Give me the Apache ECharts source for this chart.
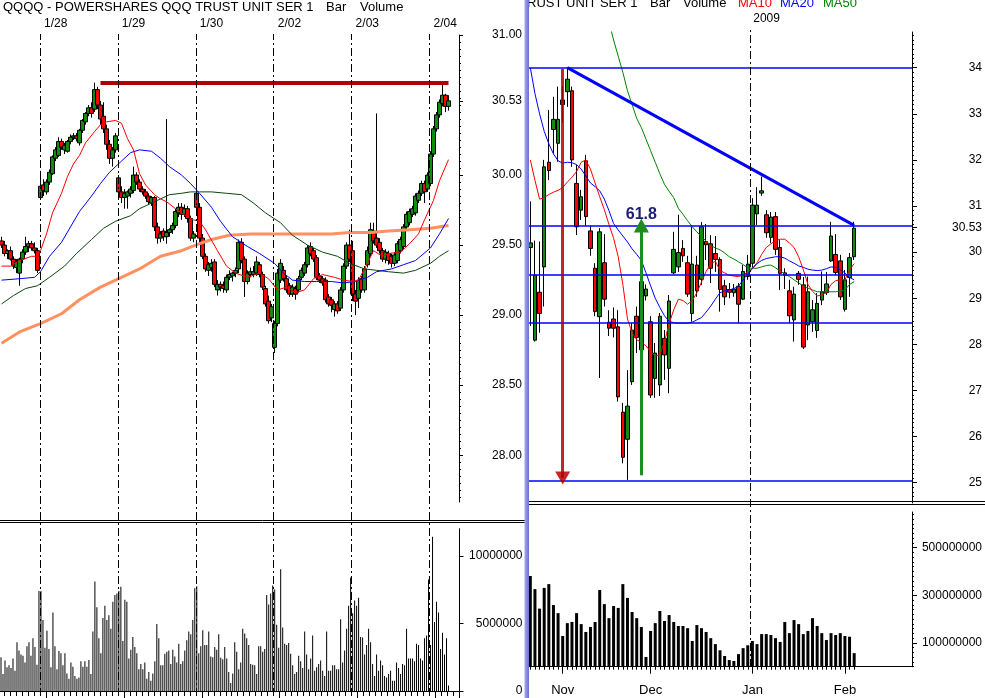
<!DOCTYPE html>
<html><head><meta charset="utf-8">
<script src="https://cdn.jsdelivr.net/npm/echarts@6/dist/echarts.min.js"></script>
<style>html,body{margin:0;padding:0;background:#fff}#c{width:985px;height:698px}</style>
</head><body><div id="c"></div>
<script>
// ================= DATA =================
// ---- Left: intraday (15-min candles, 10-min volume) ----
const leftDays = ['1/27','1/28','1/29','1/30','2/02','2/03','2/04'];
// candles [open, high, low, close]
const ohlc0127 = [[29.53,29.56,29.48,29.50],[29.50,29.53,29.42,29.44],[29.44,29.47,29.40,29.46],[29.46,29.49,29.39,29.40],[29.40,29.42,29.33,29.35],[29.34,29.40,29.30,29.38],[29.30,29.41,29.21,29.40],[29.40,29.47,29.37,29.45],[29.45,29.56,29.43,29.49],[29.49,29.53,29.45,29.51],[29.51,29.53,29.46,29.48],[29.48,29.52,29.44,29.46],[29.46,29.48,29.30,29.32]];
const ohlc0128 = [[29.84,30.03,29.83,29.92],[29.93,29.97,29.85,29.89],[29.88,29.97,29.86,29.95],[29.95,30.04,29.93,30.02],[30.01,30.14,30.00,30.13],[30.12,30.20,30.10,30.18],[30.14,30.27,30.13,30.24],[30.24,30.26,30.18,30.20],[30.18,30.23,30.15,30.21],[30.17,30.25,30.16,30.24],[30.24,30.29,30.22,30.27],[30.27,30.30,30.25,30.28],[30.28,30.30,30.24,30.26],[30.23,30.33,30.21,30.32],[30.32,30.40,30.30,30.39],[30.38,30.45,30.36,30.44],[30.44,30.50,30.42,30.48],[30.48,30.52,30.41,30.44],[30.47,30.66,30.45,30.61],[30.61,30.63,30.47,30.50],[30.50,30.53,30.36,30.40],[30.42,30.52,30.30,30.33],[30.33,30.36,30.18,30.22],[30.22,30.25,30.08,30.12],[30.12,30.20,30.06,30.18],[30.18,30.30,30.16,30.28]];
const ohlc0129 = [[29.98,30.00,29.85,29.88],[29.88,29.92,29.80,29.84],[29.84,29.90,29.76,29.87],[29.85,29.89,29.76,29.88],[29.87,29.92,29.84,29.90],[29.89,30.06,29.87,30.00],[30.00,30.02,29.93,29.95],[29.95,29.97,29.88,29.90],[29.90,29.92,29.86,29.88],[29.88,29.90,29.83,29.85],[29.85,29.87,29.79,29.81],[29.80,29.85,29.78,29.84],[29.84,29.85,29.60,29.63],[29.63,29.66,29.51,29.55],[29.55,29.60,29.52,29.58],[29.60,29.62,29.53,29.56],[29.56,30.40,29.51,29.59],[29.59,29.62,29.56,29.61],[29.61,29.66,29.58,29.64],[29.64,29.76,29.62,29.74],[29.73,29.80,29.70,29.77],[29.77,29.80,29.68,29.72],[29.72,29.79,29.70,29.76],[29.76,29.78,29.66,29.69],[29.69,29.71,29.53,29.55],[29.55,29.60,29.52,29.58]];
const ohlc0130 = [[29.87,29.94,29.75,29.77],[29.77,29.80,29.52,29.55],[29.55,29.58,29.40,29.42],[29.42,29.44,29.31,29.33],[29.32,29.38,29.28,29.36],[29.34,29.40,29.31,29.37],[29.38,29.40,29.20,29.22],[29.18,29.25,29.14,29.22],[29.22,29.24,29.17,29.20],[29.21,29.24,29.16,29.19],[29.18,29.29,29.16,29.27],[29.27,29.32,29.25,29.29],[29.28,29.31,29.24,29.30],[29.30,29.34,29.27,29.32],[29.33,29.54,29.30,29.52],[29.52,29.55,29.37,29.39],[29.40,29.42,29.13,29.24],[29.24,29.32,29.22,29.30],[29.29,29.34,29.27,29.31],[29.29,29.35,29.27,29.31],[29.30,29.42,29.28,29.38],[29.36,29.38,29.27,29.29],[29.29,29.31,29.18,29.20],[29.19,29.21,29.06,29.08],[29.10,29.14,28.94,28.96],[28.98,29.08,28.95,29.06]];
const ohlc0202 = [[28.77,28.96,28.73,28.94],[28.94,29.33,28.92,29.30],[29.25,29.40,29.23,29.37],[29.32,29.35,29.24,29.26],[29.26,29.28,29.16,29.18],[29.21,29.23,29.13,29.15],[29.15,29.22,29.13,29.20],[29.19,29.21,29.11,29.15],[29.18,29.28,29.16,29.26],[29.27,29.34,29.25,29.32],[29.30,29.38,29.28,29.36],[29.36,29.50,29.34,29.48],[29.49,29.52,29.42,29.44],[29.46,29.48,29.38,29.40],[29.41,29.43,29.25,29.27],[29.28,29.30,29.23,29.25],[29.26,29.28,29.21,29.23],[29.25,29.27,29.09,29.11],[29.13,29.15,29.06,29.08],[29.11,29.13,29.02,29.07],[29.04,29.10,28.99,29.08],[29.08,29.10,29.01,29.03],[29.05,29.20,29.03,29.18],[29.18,29.37,29.16,29.35],[29.35,29.52,29.33,29.50],[29.50,29.61,29.38,29.40]];
const ohlc0203 = [[29.46,29.53,29.10,29.15],[29.15,29.18,29.00,29.10],[29.12,29.27,29.05,29.25],[29.26,29.28,29.16,29.18],[29.18,29.35,29.16,29.33],[29.36,29.49,29.34,29.46],[29.44,29.66,29.42,29.61],[29.60,29.66,29.51,29.53],[29.55,30.44,29.48,29.50],[29.52,29.55,29.44,29.46],[29.46,29.48,29.38,29.40],[29.40,29.47,29.37,29.45],[29.44,29.46,29.36,29.39],[29.42,29.44,29.34,29.37],[29.37,29.45,29.35,29.43],[29.39,29.53,29.37,29.51],[29.46,29.56,29.44,29.54],[29.49,29.65,29.47,29.63],[29.63,29.74,29.61,29.72],[29.66,29.76,29.64,29.74],[29.72,29.78,29.70,29.76],[29.73,29.87,29.71,29.85],[29.82,29.89,29.80,29.87],[29.87,29.96,29.85,29.94],[29.94,29.96,29.80,29.88],[29.90,30.02,29.88,30.00]];
const ohlc0204 = [[29.94,30.17,29.92,30.15],[30.15,30.35,30.13,30.33],[30.33,30.45,30.31,30.43],[30.43,30.54,30.41,30.52],[30.51,30.66,30.49,30.57],[30.57,30.58,30.45,30.49],[30.49,30.57,30.46,30.53]];
const leftOHLCByDay = [ohlc0127, ohlc0128, ohlc0129, ohlc0130, ohlc0202, ohlc0203, ohlc0204];
// volume, millions of shares per 10-min bar
const vol0127 = [2.5,1.25,2.25,1.75,1.9,1.7,2.4,1.5,3.6,3.0,2.7,2.6,2.1,3.3,3.6,2.6,3.9,3.25,1.95,7.4];
const vol0128 = [7.4,5.25,3.2,4.45,3.1,1.75,5.8,3.3,1.6,2.95,2.8,1.9,2.8,1.3,0.9,2.1,1.8,1.1,0.9,1.0,2.2,1.8,2.2,1.8,2.3,1.25,4.4,8.1,6.2,3.9,2.8,5.4,6.3,5.25,5.6,4.6,6.6,7.1,7.2];
const vol0129 = [7.4,7.7,3.7,6.75,6.6,2.4,3.05,4.0,3.25,2.8,1.6,2.0,1.6,2.1,0.9,1.4,0.75,1.3,2.2,4.95,3.9,1.9,1.9,2.75,2.9,3.0,2.0,3.05,2.55,2.1,3.5,2.0,2.2,3.0,3.75,4.4,4.2,5.25,7.6];
const vol0130 = [7.75,2.8,3.3,4.5,3.4,3.4,4.4,2.55,2.5,3.25,3.05,4.2,2.45,2.35,3.25,2.4,1.4,0.6,1.3,3.6,2.9,1.6,2.1,4.6,4.25,3.9,3.4,2.0,1.95,1.9,1.25,3.3,3.3,2.9,3.1,7.1,6.4,7.2,7.8];
const vol0202 = [7.5,4.9,3.2,9.0,4.7,3.5,3.4,3.55,2.75,1.9,1.25,1.4,2.6,2.2,1.7,4.4,2.7,1.6,2.4,4.1,1.5,1.75,2.0,2.25,1.5,1.1,4.4,1.5,1.5,1.9,1.9,1.6,1.6,5.3,2.1,3.0,4.6,6.3,8.4];
const vol0203 = [5.75,6.7,6.3,6.9,4.0,3.95,2.7,3.4,4.6,3.6,2.0,1.1,2.7,1.5,2.25,1.9,1.1,1.0,1.25,1.5,0.75,0.75,2.1,1.7,1.25,2.0,1.9,4.6,2.4,2.4,2.4,2.2,3.5,3.4,2.4,2.25,3.9,4.1,8.25];
const vol0204 = [3.4,11.4,5.1,6.6,5.8,3.1,4.3,2.7,3.9,0.4];
const leftVolByDay = [vol0127, vol0128, vol0129, vol0130, vol0202, vol0203, vol0204];
// moving averages: [candle index, value]
const maRedL = [[0,29.35],[3,29.35],[6,29.39],[10,29.42],[12,29.42],[13,29.46],[15,29.58],[17,29.73],[20,29.87],[22,29.99],[24,30.08],[26,30.14],[28,30.23],[31,30.31],[33,30.36],[35,30.38],[38,30.39],[40,30.37],[42,30.26],[44,30.18],[46,30.01],[48,29.93],[51,29.86],[53,29.83],[55,29.81],[58,29.76],[60,29.73],[62,29.70],[64,29.68],[66,29.67],[68,29.61],[72,29.46],[75,29.35],[78,29.30],[82,29.27],[86,29.30],[89,29.26],[92,29.18],[95,29.20],[98,29.16],[101,29.18],[104,29.26],[107,29.29],[111,29.27],[114,29.25],[117,29.24],[119,29.25],[122,29.37],[124,29.46],[127,29.42],[129,29.44],[133,29.45],[136,29.51],[139,29.58],[141,29.68],[144,29.82],[146,29.96],[149,30.11]];
const maBlueL = [[0,29.25],[6,29.26],[11,29.27],[13,29.31],[16,29.42],[20,29.52],[23,29.63],[26,29.74],[30,29.85],[33,29.94],[36,30.02],[40,30.10],[43,30.16],[46,30.18],[50,30.17],[53,30.12],[56,30.06],[60,30.00],[63,29.94],[66,29.87],[70,29.77],[73,29.67],[77,29.56],[82,29.49],[86,29.44],[91,29.37],[94,29.30],[97,29.25],[101,29.24],[105,29.24],[110,29.24],[114,29.23],[118,29.24],[122,29.27],[125,29.31],[130,29.33],[134,29.36],[138,29.39],[143,29.48],[146,29.58],[149,29.69]];
const maGreenL = [[0,29.08],[4,29.14],[8,29.19],[12,29.21],[16,29.27],[21,29.35],[25,29.44],[30,29.54],[34,29.62],[38,29.67],[43,29.71],[46,29.76],[50,29.80],[53,29.83],[56,29.86],[60,29.87],[63,29.88],[66,29.88],[70,29.88],[75,29.87],[80,29.86],[84,29.80],[88,29.73],[93,29.66],[97,29.57],[102,29.50],[107,29.45],[112,29.42],[116,29.37],[121,29.33],[125,29.32],[129,29.31],[134,29.30],[138,29.32],[143,29.37],[146,29.42],[149,29.46]];
const maOrangeL = [[0,28.80],[6,28.88],[13,28.94],[20,29.01],[26,29.11],[33,29.20],[40,29.27],[46,29.33],[53,29.42],[60,29.46],[66,29.51],[70,29.54],[76,29.57],[83,29.58],[90,29.58],[96,29.58],[103,29.58],[110,29.58],[116,29.59],[123,29.59],[129,29.60],[136,29.61],[143,29.62],[149,29.64]];
const leftResistance = {from: 33, to: 149, value: 30.66};
const leftPriceTicks = [28.00,28.50,29.00,29.50,30.00,30.53,31.00];
const leftVolTicks = [0,5,10];

// ---- Right: daily ----
const rDates = ['Oct 23','Oct 24','Oct 27','Oct 28','Oct 29','Oct 30','Oct 31',
 'Nov 3','Nov 4','Nov 5','Nov 6','Nov 7','Nov 10','Nov 11','Nov 12','Nov 13','Nov 14','Nov 17','Nov 18','Nov 19','Nov 20','Nov 21','Nov 24','Nov 25','Nov 26','Nov 28',
 'Dec 1','Dec 2','Dec 3','Dec 4','Dec 5','Dec 8','Dec 9','Dec 10','Dec 11','Dec 12','Dec 15','Dec 16','Dec 17','Dec 18','Dec 19','Dec 22','Dec 23','Dec 24','Dec 26','Dec 29','Dec 30','Dec 31',
 'Jan 2','Jan 5','Jan 6','Jan 7','Jan 8','Jan 9','Jan 12','Jan 13','Jan 14','Jan 15','Jan 16','Jan 20','Jan 21','Jan 22','Jan 23','Jan 26','Jan 27','Jan 28','Jan 29','Jan 30',
 'Feb 2','Feb 3','Feb 4'];
const rEmptySlots = 12;
const rOHLC = [[30.10,31.10,28.40,30.20],[28.09,30.25,28.06,29.50],[29.13,30.23,28.25,28.67],[29.68,32.00,28.82,31.85],[31.95,33.08,31.56,31.77],[32.66,33.37,32.14,32.88],[32.36,33.59,31.96,32.88],
 [33.20,33.60,32.80,33.30],[33.48,34.00,33.15,33.75],[33.50,33.59,31.85,32.00],[31.49,31.89,30.37,30.55],[30.91,31.35,30.70,31.20],[31.98,32.11,30.57,30.77],[30.46,30.57,29.92,30.08],[29.65,29.76,28.61,28.71],[28.60,30.52,27.27,30.44],[29.77,30.39,28.82,28.98],[28.48,28.74,28.18,28.35],[28.55,28.80,28.15,28.35],[28.38,28.74,26.76,26.86],[26.53,26.73,25.42,25.55],[25.94,27.44,25.06,26.66],[27.19,28.46,27.12,28.31],[28.61,28.82,27.81,28.15],[27.88,29.50,27.83,29.36],[29.05,29.30,28.95,29.20],
 [28.49,28.61,26.84,26.90],[27.26,28.03,26.84,27.81],[27.12,28.68,26.88,28.61],[28.13,28.31,27.23,27.77],[27.48,29.07,26.94,28.94],[29.55,30.44,29.52,30.06],[29.68,30.81,29.57,29.99],[30.08,30.26,29.79,29.92],[29.77,29.92,29.03,29.09],[28.67,30.55,28.49,29.74],[29.72,29.92,29.03,29.16],[29.41,30.65,29.29,30.55],[30.23,30.61,29.83,30.16],[30.18,30.37,29.33,29.65],[29.97,30.35,29.57,29.84],[29.84,29.89,28.71,29.19],[29.27,29.40,28.85,29.03],[29.19,29.33,29.00,29.13],[29.12,29.31,29.03,29.20],[29.26,29.33,28.45,28.87],[28.98,29.72,28.96,29.58],[29.47,29.94,29.40,29.74],
 [29.76,31.17,29.66,31.02],[30.83,31.41,30.59,31.02],[31.28,31.64,31.22,31.33],[30.81,30.91,30.31,30.42],[30.32,30.87,30.20,30.76],[30.77,30.87,29.94,30.06],[30.10,30.26,29.18,29.54],[29.55,29.65,29.20,29.50],[29.16,29.40,28.46,28.62],[28.53,29.25,28.06,29.09],[29.54,29.59,29.29,29.41],[29.29,29.46,27.90,27.94],[28.42,29.47,28.09,29.14],[28.49,28.96,28.27,28.75],[28.30,29.11,28.14,28.89],[28.96,29.58,28.85,29.14],[29.12,29.57,29.07,29.31],[29.81,30.66,29.79,30.35],[29.95,30.39,29.50,29.56],[29.81,29.94,28.96,29.03],
 [28.76,29.61,28.71,29.40],[29.45,29.98,29.03,29.88],[29.90,30.66,29.83,30.52]];
// daily volume, millions
const rVol = [381,326,244,331,347,259,225,129,183,188,225,179,146,167,188,322,263,204,255,247,347,289,230,204,167,41,150,183,234,192,217,188,171,171,162,108,175,162,146,120,95,69,45,28,24,53,78,90,108,95,137,137,133,120,104,188,141,196,179,137,150,204,171,141,112,141,133,141,129,126,57];
const rMA10 = [32.00,31.56,31.15,31.18,31.25,31.30,31.34,31.40,31.52,31.62,31.75,31.95,32.00,31.80,31.50,31.20,30.92,30.60,30.30,29.90,29.30,28.55,28.25,28.10,28.04,27.97,27.84,27.74,27.78,28.05,28.45,28.75,28.98,28.95,28.87,28.95,29.12,29.35,29.58,29.75,29.80,29.60,29.55,29.50,29.48,29.47,29.50,29.57,29.65,29.77,29.95,30.10,30.18,30.25,30.28,30.28,30.20,30.10,29.90,29.62,29.30,29.15,29.05,29.07,29.12,29.30,29.38,29.40,29.40,29.62,29.75];
const rMA20 = [34.00,33.44,33.00,32.62,32.35,32.13,31.98,31.93,31.95,31.94,31.90,31.80,31.65,31.50,31.42,31.33,31.15,30.90,30.62,30.48,30.35,30.22,30.07,29.95,29.82,29.55,29.27,29.00,28.80,28.62,28.50,28.47,28.46,28.46,28.46,28.48,28.53,28.58,28.70,28.83,28.98,29.12,29.16,29.18,29.21,29.26,29.40,29.53,29.64,29.75,29.82,29.86,29.88,29.90,29.90,29.87,29.81,29.76,29.70,29.67,29.63,29.61,29.60,29.61,29.64,29.68,29.67,29.62,29.55,29.45,29.40];
const rMA50 = [null,null,null,null,null,null,null,null,null,null,null,null,null,null,null,null,null,
 35.0,34.6,34.25,33.9,33.5,33.2,32.9,32.7,32.45,32.2,31.95,31.7,31.47,31.32,31.18,30.95,30.82,30.68,30.55,30.44,30.33,30.24,30.15,30.09,30.05,29.98,29.90,29.85,29.79,29.73,29.66,29.65,29.65,29.68,29.71,29.72,29.66,29.59,29.53,29.47,29.40,29.33,29.27,29.22,29.18,29.14,29.14,29.14,29.14,29.14,29.16,29.18,29.30,29.36];
const fibLevels = [34.00, 30.58, 29.52, 28.46, 25.04];
const trendLine = [['Nov 4', 34.00], ['Feb 4', 30.58]];
const redArrow = [['Nov 3', 33.97], ['Nov 3', 25.10]];
const greenArrow = [['Nov 26', 25.16], ['Nov 26', 30.58]];
const greenArrowLabel = '61.8';
const rPriceTicks = [25,26,27,28,29,30,30.53,31,32,33,34];
const rVolTicks = [100,300,500];
const yearLabel = '2009';

// ================= BUILD =================
const FONT = '"Liberation Sans", Arial, sans-serif';
const UP = '#118c11', DOWN = '#ff0000';
const toEC = a => [a[0], a[3], a[2], a[1]];

const leftCandleCats = [], leftOHLC = [];
leftOHLCByDay.forEach((d, di) => d.forEach((c, k) => { leftCandleCats.push(leftDays[di] + ' c' + k); leftOHLC.push(toEC(c)); }));
for (let p = 0; p < 3; p++) leftCandleCats.push('pad c' + p);
const leftVolCats = [], leftVol = [], dayStarts = [];
leftVolByDay.forEach((d, di) => { if (di > 0) dayStarts.push(leftVol.length); d.forEach((v, k) => { leftVolCats.push(leftDays[di] + ' v' + k); leftVol.push(v); }); });
for (let p = 0; p < 5; p++) leftVolCats.push('pad v' + p);
const dayStartLabel = {}; dayStarts.forEach((s, j) => dayStartLabel[s] = leftDays[j + 1]);

const rCats = rDates.slice(); for (let p = 1; p <= rEmptySlots; p++) rCats.push('pad' + p);
const rData = rOHLC.map(toEC);
const monthStarts = []; rDates.forEach((d, i) => { if (i > 0 && d.split(' ')[0] !== rDates[i-1].split(' ')[0]) monthStarts.push(i); });
const yearStart = rDates.indexOf('Jan 2');

const range = (a, b, s) => { const r = []; for (let v = a; v <= b + 1e-9; v += s) r.push(+v.toFixed(2)); return r; };
const leftMinor = range(27.70, 31.00, 0.05);
const rMinor = range(24.6, 34.7, 0.1);
const rVolMinor = range(0, 640, 20);

const axisTxt = {color: '#000', fontFamily: FONT, fontSize: 12};
const blackLine = {lineStyle: {color: '#000', width: 1}};

const option = {
  animation: false,
  backgroundColor: '#fff',
  grid: [
    {left: 0, top: 35, width: 459, height: 467},
    {left: -0.5, top: 528.7, width: 460, height: 162.3},
    {left: -0.5, top: 34, width: 460, height: 662},
    {left: 528, top: 32, width: 384.3, height: 471},
    {left: 528, top: 512, width: 384.3, height: 154.7},
    {left: 528, top: 30, width: 384.3, height: 637}
  ],
  xAxis: [
    {gridIndex: 0, type: 'category', data: leftCandleCats, show: false},
    {gridIndex: 1, type: 'category', data: leftVolCats, position: 'bottom', axisLine: blackLine,
     axisTick: {show: true, interval: i => i % 3 === 2, length: 5, lineStyle: {color: '#000'}}, axisLabel: {show: false}},
    {gridIndex: 1, type: 'category', data: leftVolCats, position: 'bottom', axisLine: {show: false},
     axisTick: {show: true, interval: i => i % 39 === 23, length: 9, lineStyle: {color: '#000'}}, axisLabel: {show: false}},
    {gridIndex: 2, type: 'value', min: 0, max: leftVolCats.length, position: 'top', splitLine: {show: false},
     axisLine: {show: false}, axisTick: {show: false},
     axisLabel: Object.assign({customValues: dayStarts, formatter: v => dayStartLabel[v] || '', align: 'left', padding: [0,0,0,4], margin: 4}, axisTxt)},
    {gridIndex: 3, type: 'category', data: rCats, show: false},
    {gridIndex: 4, type: 'category', data: rCats, position: 'bottom', axisLine: blackLine,
     axisTick: {show: true, alignWithLabel: true, interval: i => i < rDates.length, length: 3, lineStyle: {color: '#000'}}, axisLabel: {show: false}},
    {gridIndex: 4, type: 'category', data: rCats, position: 'bottom', axisLine: {show: false},
     axisTick: {show: true, alignWithLabel: true, interval: i => monthStarts.includes(i), length: 7, lineStyle: {color: '#000'}},
     axisLabel: Object.assign({interval: i => monthStarts.includes(i), formatter: v => v.split(' ')[0], margin: 17}, axisTxt, {fontSize: 13})},
    {gridIndex: 5, type: 'value', min: 0, max: rCats.length, position: 'top', splitLine: {show: false},
     axisLine: {show: false}, axisTick: {show: false},
     axisLabel: Object.assign({customValues: [yearStart], formatter: () => yearLabel, align: 'left', padding: [0,0,0,3], margin: 5}, axisTxt)}
  ],
  yAxis: [
    {gridIndex: 0, type: 'value', min: 27.666, max: 31.0, position: 'right', splitLine: {show: false}, axisLine: Object.assign({show: true}, blackLine),
     axisTick: {show: true, customValues: leftPriceTicks, length: 4, lineStyle: {color: '#000'}},
     axisLabel: Object.assign({customValues: leftPriceTicks, formatter: v => v.toFixed(2), align: 'right', margin: 63}, axisTxt)},
    {gridIndex: 0, type: 'value', min: 27.666, max: 31.0, position: 'right', splitLine: {show: false}, axisLine: {show: false},
     axisTick: {show: true, customValues: leftMinor, length: 2, lineStyle: {color: '#000'}}, axisLabel: {show: false}},
    {gridIndex: 1, type: 'value', min: 0, max: 12, position: 'right', splitLine: {show: false}, axisLine: Object.assign({show: true}, blackLine),
     axisTick: {show: true, customValues: leftVolTicks, length: 4, lineStyle: {color: '#000'}},
     axisLabel: Object.assign({customValues: leftVolTicks, formatter: v => String(Math.round(v * 1e6)), align: 'right', margin: 63}, axisTxt)},
    {gridIndex: 2, type: 'value', min: 0, max: 1, show: false},
    {gridIndex: 3, type: 'value', min: 24.559, max: 34.774, position: 'right', splitLine: {show: false}, axisLine: Object.assign({show: true}, blackLine),
     axisTick: {show: true, customValues: rPriceTicks, length: 5, lineStyle: {color: '#000'}},
     axisLabel: Object.assign({customValues: rPriceTicks, formatter: v => (Number.isInteger(v) ? String(v) : v.toFixed(2)), align: 'right', margin: 70}, axisTxt)},
    {gridIndex: 3, type: 'value', min: 24.559, max: 34.774, position: 'right', splitLine: {show: false}, axisLine: {show: false},
     axisTick: {show: true, customValues: rMinor, length: 2, lineStyle: {color: '#000'}}, axisLabel: {show: false}},
    {gridIndex: 4, type: 'value', min: 0, max: 650, position: 'right', splitLine: {show: false}, axisLine: Object.assign({show: true}, blackLine),
     axisTick: {show: true, customValues: rVolTicks, length: 5, lineStyle: {color: '#000'}},
     axisLabel: Object.assign({customValues: rVolTicks, formatter: v => String(Math.round(v * 1e6)), align: 'right', margin: 70}, axisTxt)},
    {gridIndex: 4, type: 'value', min: 0, max: 650, position: 'right', splitLine: {show: false}, axisLine: {show: false},
     axisTick: {show: true, customValues: rVolMinor, length: 2, lineStyle: {color: '#000'}}, axisLabel: {show: false}},
    {gridIndex: 5, type: 'value', min: 0, max: 1, show: false}
  ],
  series: [
    // ---- left price ----
    {type: 'candlestick', xAxisIndex: 0, yAxisIndex: 0, data: leftOHLC, barWidth: 4, z: 3,
     itemStyle: {color: UP, color0: DOWN, borderColor: '#000', borderColor0: '#000', borderWidth: 1},
     markLine: {silent: true, symbol: ['none', 'none'], label: {show: false}, z: 4,
       lineStyle: {color: '#b00000', width: 4, type: 'solid'},
       data: [[{coord: [leftResistance.from, leftResistance.value]}, {coord: [leftResistance.to, leftResistance.value]}]]}},
    {type: 'line', xAxisIndex: 0, yAxisIndex: 0, data: maOrangeL, showSymbol: false, z: 4, lineStyle: {color: '#ff9060', width: 3}},
    {type: 'line', xAxisIndex: 0, yAxisIndex: 0, data: maGreenL, showSymbol: false, z: 4, lineStyle: {color: '#0a460a', width: 1}},
    {type: 'line', xAxisIndex: 0, yAxisIndex: 0, data: maBlueL, showSymbol: false, z: 4, lineStyle: {color: '#0000ff', width: 1}},
    {type: 'line', xAxisIndex: 0, yAxisIndex: 0, data: maRedL, showSymbol: false, z: 4, lineStyle: {color: '#ff0000', width: 1}},
    // ---- left volume ----
    {type: 'bar', xAxisIndex: 1, yAxisIndex: 2, data: leftVol, barWidth: 1, itemStyle: {color: '#000'}},
    // ---- left day separators ----
    {type: 'line', xAxisIndex: 3, yAxisIndex: 3, data: [], z: 6,
     markLine: {silent: true, symbol: ['none', 'none'], label: {show: false},
       lineStyle: {color: '#000', width: 1, type: [8, 3, 2, 3]}, data: dayStarts.map(s => ({xAxis: s}))}},
    // ---- right price ----
    {type: 'candlestick', xAxisIndex: 4, yAxisIndex: 4, data: rData, barWidth: 4, z: 3,
     itemStyle: {color: UP, color0: DOWN, borderColor: '#000', borderColor0: '#000', borderWidth: 1},
     markLine: {silent: true, symbol: ['none', 'none'], label: {show: false}, z: 5,
       data: fibLevels.map(v => ({yAxis: v, lineStyle: {color: '#0000ff', width: 1.5, type: 'solid'}})).concat([
         [{coord: trendLine[0], lineStyle: {color: '#0000ff', width: 3, type: 'solid'}}, {coord: trendLine[1]}],
         [{coord: redArrow[0], lineStyle: {color: 'rgba(185,0,0,0.85)', width: 3, type: 'solid'}, symbol: 'none'},
          {coord: redArrow[1], symbol: 'triangle', symbolSize: [15, 13]}],
         [{coord: greenArrow[0], lineStyle: {color: '#1e8c1e', width: 3, type: 'solid'}, symbol: 'none',
           label: {show: true, position: 'end', formatter: greenArrowLabel, color: '#1c1c72', fontWeight: 'bold', fontSize: 16, fontFamily: FONT, distance: 3}},
          {coord: greenArrow[1], symbol: 'triangle', symbolSize: [15, 14]}]
       ])}},
    {type: 'line', xAxisIndex: 4, yAxisIndex: 4, data: rMA50, showSymbol: false, z: 4, lineStyle: {color: '#008000', width: 1}},
    {type: 'line', xAxisIndex: 4, yAxisIndex: 4, data: rMA20, showSymbol: false, z: 4, lineStyle: {color: '#0000ff', width: 1}},
    {type: 'line', xAxisIndex: 4, yAxisIndex: 4, data: rMA10, showSymbol: false, z: 4, lineStyle: {color: '#ff0000', width: 1}},
    // ---- right volume ----
    {type: 'bar', xAxisIndex: 5, yAxisIndex: 6, data: rVol, barWidth: 3, itemStyle: {color: '#000'}},
    // ---- year separator ----
    {type: 'line', xAxisIndex: 7, yAxisIndex: 8, data: [], z: 6,
     markLine: {silent: true, symbol: ['none', 'none'], label: {show: false},
       lineStyle: {color: '#000', width: 1, type: [8, 3, 2, 3]}, data: [{xAxis: yearStart}]}}
  ],
  graphic: [
    {type: 'text', x: 3, y: 7, z: 50, style: {text: 'QQQQ - POWERSHARES QQQ TRUST UNIT SER 1', font: '13px ' + FONT, fill: '#000', verticalAlign: 'middle'}},
    {type: 'text', x: 326, y: 7, z: 50, style: {text: 'Bar', font: '13px ' + FONT, fill: '#000', verticalAlign: 'middle'}},
    {type: 'text', x: 360, y: 7, z: 50, style: {text: 'Volume', font: '13px ' + FONT, fill: '#000', verticalAlign: 'middle'}},
    {type: 'text', x: 527, y: 3, z: 50, style: {text: 'RUST UNIT SER 1', font: '13px ' + FONT, fill: '#000', verticalAlign: 'middle'}},
    {type: 'text', x: 650, y: 3, z: 50, style: {text: 'Bar', font: '13px ' + FONT, fill: '#000', verticalAlign: 'middle'}},
    {type: 'text', x: 683, y: 3, z: 50, style: {text: 'Volume', font: '13px ' + FONT, fill: '#000', verticalAlign: 'middle'}},
    {type: 'text', x: 738, y: 3, z: 50, style: {text: 'MA10', font: '13px ' + FONT, fill: '#ff0000', verticalAlign: 'middle'}},
    {type: 'text', x: 780, y: 3, z: 50, style: {text: 'MA20', font: '13px ' + FONT, fill: '#0000ff', verticalAlign: 'middle'}},
    {type: 'text', x: 823, y: 3, z: 50, style: {text: 'MA50', font: '13px ' + FONT, fill: '#008000', verticalAlign: 'middle'}},
    {type: 'line', z: 50, shape: {x1: 0, y1: 520.5, x2: 525, y2: 520.5}, style: {stroke: '#000', lineWidth: 1}},
    {type: 'line', z: 50, shape: {x1: 0, y1: 522.5, x2: 525, y2: 522.5}, style: {stroke: '#000', lineWidth: 1}},
    {type: 'line', z: 50, shape: {x1: 528, y1: 501.5, x2: 985, y2: 501.5}, style: {stroke: '#000', lineWidth: 1}},
    {type: 'line', z: 50, shape: {x1: 528, y1: 504.5, x2: 985, y2: 504.5}, style: {stroke: '#000', lineWidth: 1}},
    {type: 'rect', z: 100, shape: {x: 524.5, y: 0, width: 4.5, height: 698},
     style: {fill: new echarts.graphic.LinearGradient(0, 0, 1, 0, [{offset: 0, color: '#a4a8ee'}, {offset: 1, color: '#6a70d2'}])}}
  ]
};
const chart = echarts.init(document.getElementById('c'), null, {width: 985, height: 698});
chart.setOption(option);
</script></body></html>
